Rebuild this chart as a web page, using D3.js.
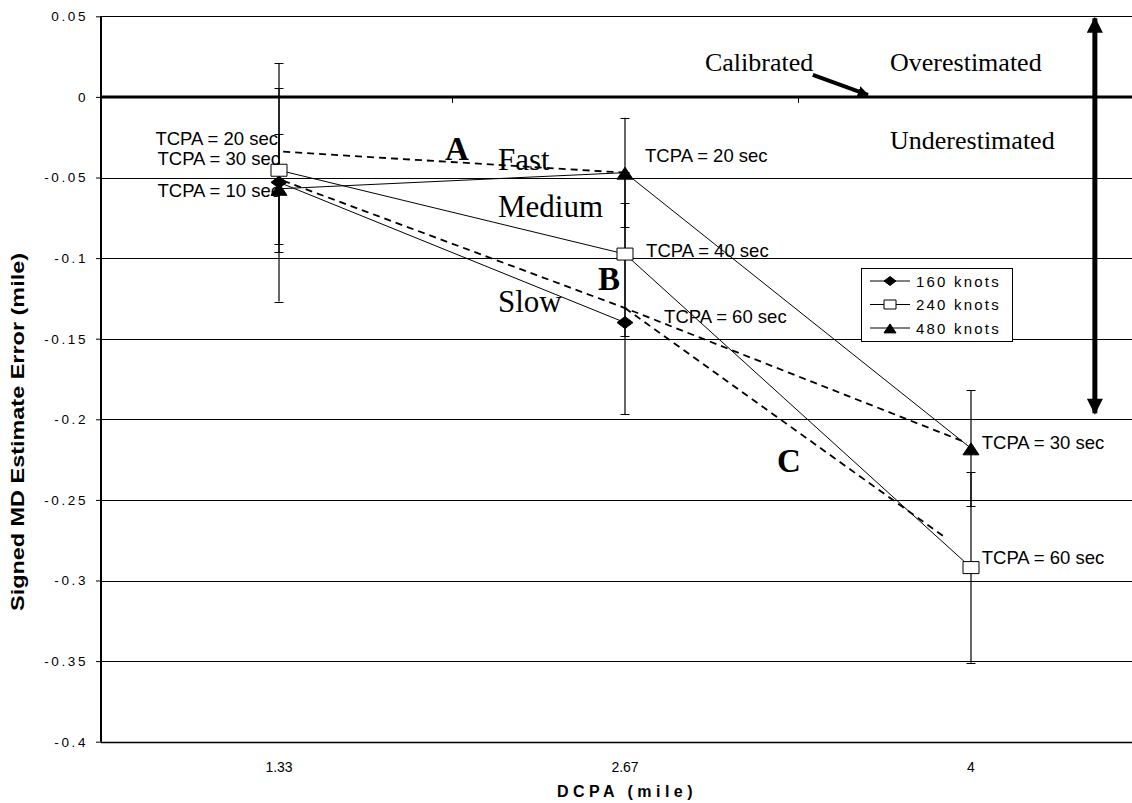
<!DOCTYPE html>
<html>
<head>
<meta charset="utf-8">
<script src="https://cdn.jsdelivr.net/npm/d3@7"></script>
<style>
  body { margin: 0; background: #fff; }
  svg { display: block; }
</style>
</head>
<body>
<svg id="chart" width="1132" height="803"></svg>
<script>
// DCPA categories and the value axis ticks
const dcpaLabels = ["1.33", "2.67", "4"];
const yTickValues = [0.05, 0, -0.05, -0.1, -0.15, -0.2, -0.25, -0.3, -0.35, -0.4];
const yTickLabels = ["0.05", "0", "-0.05", "-0.1", "-0.15", "-0.2", "-0.25", "-0.3", "-0.35", "-0.4"];

// Mean signed MD estimate error per speed (null = not run)
const speedNames = ["160 knots", "240 knots", "480 knots"];
const knots160 = [-0.053, -0.140, null];
const knots240 = [-0.0455, -0.0975, -0.292];
const knots480 = [-0.057, -0.047, -0.218];
// Error bar extents above / below the mean
const errUp160 = [0.074, 0.074, null];
const errDown160 = [0.074, 0.057, null];
const err240 = [0.051, 0.051, 0.059];
const err480 = [0.034, 0.034, 0.036];

// TCPA iso-lines (x in category index units, y in miles)
const isoA = [[0.012, -0.034], [1, -0.047]];
const isoB = [[0.012, -0.052], [1, -0.131], [1.988, -0.2146]];
const isoC = [[1, -0.131], [1.928, -0.2737]];

// TCPA point notes
const tcpaText = ["TCPA = 20 sec", "TCPA = 30 sec", "TCPA = 10 sec",
                  "TCPA = 20 sec", "TCPA = 40 sec", "TCPA = 60 sec",
                  "TCPA = 30 sec", "TCPA = 60 sec"];

// Region / speed annotations
const regionText = ["Calibrated", "Overestimated", "Underestimated"];
const speedText = ["Fast", "Medium", "Slow"];
const isoText = ["A", "B", "C"];

const W = 1132, H = 803;
const svg = d3.select("#chart");

const x = d3.scaleLinear().domain([0, dcpaLabels.length - 1]).range([279, 971]);
const y = d3.scaleLinear().domain([-0.4, 0.05]).range([741.7, 16.3]);
const crisp = v => Math.round(v) + 0.5;

const plotLeft = Math.round(x(-0.5)) - 5, plotRight = x(dcpaLabels.length - 0.5);

// horizontal gridlines
svg.append("g").selectAll("line")
  .data(yTickValues.filter(v => v !== 0))
  .join("line")
  .attr("x1", plotLeft).attr("x2", plotRight)
  .attr("y1", d => crisp(y(d))).attr("y2", d => crisp(y(d)))
  .attr("stroke", "#000").attr("stroke-width", d => d === -0.4 ? 1.5 : 1);

// value axis
const yAxis = svg.append("g")
  .attr("transform", `translate(${plotLeft},0)`)
  .call(d3.axisLeft(y).tickValues(yTickValues).tickSize(5)
        .tickFormat((d, i) => yTickLabels[i]).tickPadding(10));
yAxis.select(".domain").attr("stroke-width", 2).attr("d", `M0,${y(0.05)}V${y(-0.4)}`);
yAxis.selectAll(".tick line").attr("stroke-width", 1);
yAxis.selectAll(".tick text")
  .attr("font-family", "Liberation Sans, Arial, sans-serif")
  .attr("font-size", 13.5).attr("letter-spacing", 2.6).attr("fill", "#000")
  .attr("dx", 2);

// category axis crosses at zero
svg.append("line")
  .attr("x1", plotLeft).attr("x2", plotRight)
  .attr("y1", y(0)).attr("y2", y(0))
  .attr("stroke", "#000").attr("stroke-width", 3);
svg.append("g").selectAll("line")
  .data(d3.range(1, dcpaLabels.length + 1).map(i => i - 0.5))
  .join("line")
  .attr("x1", d => crisp(x(d))).attr("x2", d => crisp(x(d)))
  .attr("y1", y(0)).attr("y2", y(0) + 6)
  .attr("stroke", "#000").attr("stroke-width", 1);

// category labels, placed low
svg.append("g").selectAll("text")
  .data(dcpaLabels)
  .join("text")
  .attr("x", (d, i) => x(i)).attr("y", 772)
  .attr("text-anchor", "middle")
  .attr("font-family", "Liberation Sans, Arial, sans-serif")
  .attr("font-size", 14)
  .text(d => d);

// axis titles
svg.append("text")
  .attr("x", 627).attr("y", 797)
  .attr("text-anchor", "middle")
  .attr("font-family", "Liberation Sans, Arial, sans-serif")
  .attr("font-size", 16).attr("font-weight", "bold").attr("letter-spacing", 4.5)
  .text("DCPA (mile)");
svg.append("text")
  .attr("transform", "translate(24,432) rotate(-90)")
  .attr("text-anchor", "middle")
  .attr("font-family", "Liberation Sans, Arial, sans-serif")
  .attr("font-size", 17.5).attr("font-weight", "bold")
  .attr("textLength", 358).attr("lengthAdjust", "spacingAndGlyphs")
  .text("Signed MD Estimate Error (mile)");

// dashed TCPA iso-lines
const isoLine = d3.line().x(d => x(d[0])).y(d => y(d[1]));
svg.append("g").selectAll("path")
  .data([isoA, isoB, isoC])
  .join("path")
  .attr("d", isoLine)
  .attr("fill", "none").attr("stroke", "#000")
  .attr("stroke-width", 1.8).attr("stroke-dasharray", "7,5");

const seriesVals = [knots160, knots240, knots480];
const seriesUp = [errUp160, err240, err480];
const seriesDown = [errDown160, err240, err480];
const symbols = ["diamond", "square", "triangle"];

// speed lines
const speedLine = d3.line().defined(d => d != null).x((d, i) => x(i)).y(d => y(d));
svg.append("g").selectAll("path")
  .data(seriesVals)
  .join("path")
  .attr("d", speedLine)
  .attr("fill", "none").attr("stroke", "#000").attr("stroke-width", 1);

// error bars
const bars = svg.append("g");
seriesVals.forEach((vals, s) => {
  vals.forEach((v, i) => {
    if (v == null) return;
    const top = v + seriesUp[s][i], bottom = v - seriesDown[s][i];
    const cx = x(i);
    bars.append("line").attr("x1", cx).attr("x2", cx)
      .attr("y1", y(top)).attr("y2", y(bottom))
      .attr("stroke", "#000").attr("stroke-width", 1.2);
    [top, bottom].forEach(t => bars.append("line")
      .attr("x1", cx - 4.5).attr("x2", cx + 4.5)
      .attr("y1", crisp(y(t))).attr("y2", crisp(y(t)))
      .attr("stroke", "#000").attr("stroke-width", 1));
  });
});

// markers
function markerPath(kind, k) {
  if (kind === "diamond") return `M0,${-6 * k}L${8 * k},0L0,${6 * k}L${-8 * k},0Z`;
  if (kind === "square") return `M${-8 * k},${-6 * k}H${8 * k}V${6 * k}H${-8 * k}Z`;
  return `M0,${-5.5 * k}L${8 * k},${6.5 * k}H${-8 * k}Z`;
}
function drawMarker(g, kind, k) {
  g.append("path").attr("d", markerPath(kind, k))
    .attr("fill", kind === "square" ? "#fff" : "#000")
    .attr("stroke", "#000").attr("stroke-width", 1);
}
const marks = svg.append("g");
seriesVals.forEach((vals, s) => {
  vals.forEach((v, i) => {
    if (v == null) return;
    drawMarker(marks.append("g").attr("transform", `translate(${x(i)},${y(v)})`), symbols[s], 1);
  });
});

// TCPA notes: [category index, value at baseline, anchor]
const tcpaPlace = [
  [-0.003, -0.0298, "end"], [0.003, -0.0422, "end"], [0.003, -0.0620, "end"],
  [1.058, -0.0402, "start"], [1.061, -0.0994, "start"], [1.113, -0.1404, "start"],
  [2.031, -0.2185, "start"], [2.031, -0.2898, "start"]
];
svg.append("g").selectAll("text")
  .data(tcpaText)
  .join("text")
  .attr("x", (d, i) => x(tcpaPlace[i][0]))
  .attr("y", (d, i) => y(tcpaPlace[i][1]))
  .attr("text-anchor", (d, i) => tcpaPlace[i][2])
  .attr("font-family", "Liberation Sans, Arial, sans-serif")
  .attr("font-size", 18.5)
  .text(d => d);

// Serif annotations: [index, value at baseline, size, weight]
const serifPlace = [
  [1.231, 0.0160, 26, "normal"], [1.766, 0.0160, 26, "normal"], [1.766, -0.0323, 26, "normal"]
];
const speedPlace = [
  [0.633, -0.0454, 31, "normal"], [0.633, -0.0746, 31, "normal"], [0.633, -0.1334, 31, "normal"]
];
const isoPlace = [
  [0.480, -0.0392, 33, "bold"], [0.922, -0.1198, 33, "bold"], [1.439, -0.2327, 33, "bold"]
];
const serif = svg.append("g")
  .attr("font-family", "Liberation Serif, Times New Roman, serif");
[[regionText, serifPlace], [speedText, speedPlace], [isoText, isoPlace]].forEach(([texts, place]) => {
  texts.forEach((t, i) => serif.append("text")
    .attr("x", x(place[i][0])).attr("y", y(place[i][1]))
    .attr("font-size", place[i][2]).attr("font-weight", place[i][3])
    .text(t));
});

// arrows
const defs = svg.append("defs");
defs.append("marker").attr("id", "head").attr("viewBox", "0 0 10 10")
  .attr("refX", 9).attr("refY", 5).attr("markerWidth", 3.6).attr("markerHeight", 3.2)
  .attr("markerUnits", "strokeWidth").attr("orient", "auto-start-reverse")
  .append("path").attr("d", "M0,0L10,5L0,10Z").attr("fill", "#000");
defs.append("marker").attr("id", "head2").attr("viewBox", "0 0 10 10")
  .attr("refX", 9).attr("refY", 5).attr("markerWidth", 2.8).attr("markerHeight", 2.8)
  .attr("markerUnits", "strokeWidth").attr("orient", "auto-start-reverse")
  .append("path").attr("d", "M0,0L10,5L0,10Z").attr("fill", "#000");

// "Calibrated" pointer and the over/under range arrow
const calArrow = [[1.543, 0.0136], [1.702, 0.0012]];
const rangeArrow = [[2.358, 0.0488], [2.358, -0.1962]];
svg.append("line")
  .attr("x1", x(calArrow[0][0])).attr("y1", y(calArrow[0][1]))
  .attr("x2", x(calArrow[1][0])).attr("y2", y(calArrow[1][1]))
  .attr("stroke", "#000").attr("stroke-width", 4).attr("marker-end", "url(#head2)");
svg.append("line")
  .attr("x1", x(rangeArrow[0][0])).attr("y1", y(rangeArrow[0][1]))
  .attr("x2", x(rangeArrow[1][0])).attr("y2", y(rangeArrow[1][1]))
  .attr("stroke", "#000").attr("stroke-width", 5)
  .attr("marker-start", "url(#head)").attr("marker-end", "url(#head)");

// legend
const lg = svg.append("g").attr("transform", "translate(861,268)");
lg.append("rect").attr("x", 0.5).attr("y", 0.5).attr("width", 151).attr("height", 73)
  .attr("fill", "#fff").attr("stroke", "#000").attr("stroke-width", 1);
speedNames.forEach((name, i) => {
  const row = lg.append("g").attr("transform", `translate(0,${13 + i * 23.5})`);
  row.append("line").attr("x1", 9).attr("x2", 49).attr("y1", 0).attr("y2", 0)
    .attr("stroke", "#000").attr("stroke-width", 1);
  drawMarker(row.append("g").attr("transform", "translate(29,0)"), symbols[i], 0.75);
  row.append("text").attr("x", 55).attr("y", 5.5)
    .attr("font-family", "Liberation Sans, Arial, sans-serif")
    .attr("font-size", 15).attr("letter-spacing", 2.2)
    .text(name);
});
</script>
</body>
</html>
